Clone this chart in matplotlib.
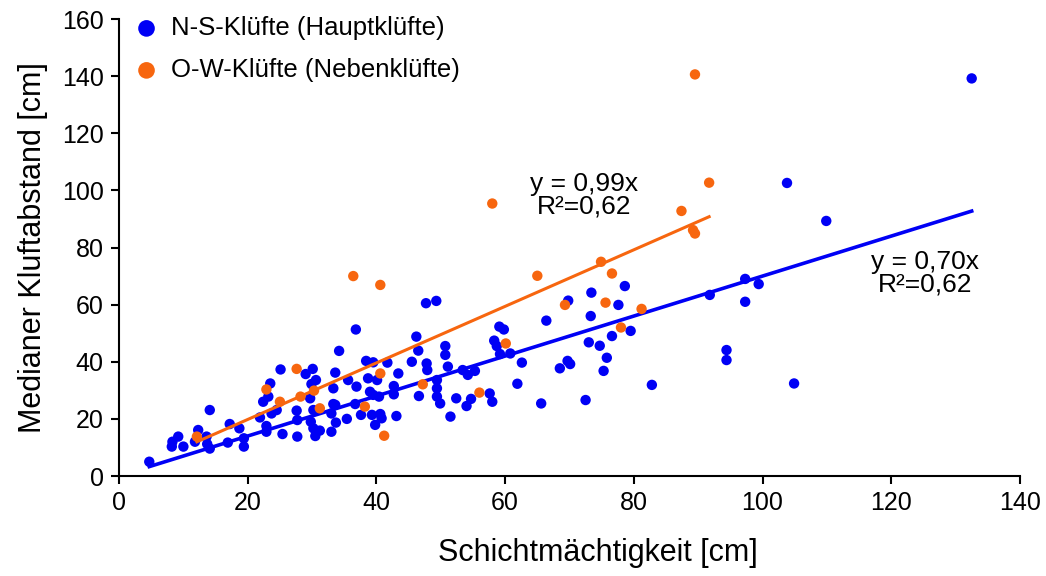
import matplotlib
matplotlib.use("Agg")
import matplotlib.pyplot as plt
import numpy as np

plt.rcParams['font.family'] = ['Liberation Sans', 'DejaVu Sans']

# N-S-Klüfte (Hauptklüfte)
ns_x = [4.7, 8.3, 9.2, 8.2, 10.0, 12.3, 11.8, 13.6, 14.1, 14.1, 13.7, 16.9, 17.2, 18.7, 19.4, 19.4,
        22.4, 22.9, 22.9, 23.5, 23.2, 21.9, 23.7, 24.5, 25.1, 25.4, 27.6, 27.7, 27.7, 29.0, 30.1,
        30.6, 29.7, 30.2, 29.8, 30.2, 30.5, 31.2, 33.0, 33.3, 33.6, 34.2, 33.6, 33.7, 33.0, 35.4,
        35.6, 29.9, 36.8, 36.9, 38.4, 39.5, 41.7, 38.7, 40.1, 39.0, 39.5, 40.4, 36.7, 37.6, 39.3,
        39.8, 40.8, 43.1, 42.7, 42.7, 43.4, 46.2, 46.5, 45.5, 47.8, 47.9, 46.6, 49.4, 49.4, 49.4,
        49.9, 47.7, 49.3, 50.7, 50.7, 51.1, 52.4, 51.5, 53.4, 54.2, 55.3, 54.7, 54.0, 57.6, 58.0,
        58.3, 58.7, 59.1, 59.8, 60.8, 59.2, 61.9, 62.6, 65.6, 66.4, 68.5, 69.7, 70.1, 69.8, 73.4,
        73.3, 78.6, 77.6, 79.5, 76.6, 73.0, 74.7, 75.8, 75.3, 72.5, 82.8, 91.8, 97.3, 99.4, 97.3,
        94.4, 94.4, 104.9, 103.8, 109.9, 132.5, 40.6, 33.3]
ns_y = [5.0, 12.0, 13.8, 10.3, 10.3, 16.1, 12.0, 13.8, 9.6, 23.1, 11.2, 11.7, 18.2, 16.7, 13.2, 10.3,
        26.0, 17.5, 15.5, 32.4, 27.8, 20.5, 21.9, 23.1, 37.3, 14.7, 22.9, 19.6, 13.8, 35.7, 37.5,
        33.6, 27.2, 23.1, 19.0, 16.7, 14.0, 15.9, 15.5, 30.7, 36.2, 43.8, 24.9, 18.7, 21.9, 20.0,
        33.6, 32.2, 51.3, 31.3, 40.3, 39.8, 39.7, 34.2, 33.6, 29.5, 28.4, 27.8, 25.2, 21.4, 21.4,
        17.9, 20.2, 21.0, 31.5, 28.6, 35.9, 48.8, 43.9, 40.0, 39.4, 37.1, 28.0, 33.6, 30.7, 27.8,
        25.4, 60.5, 61.3, 45.5, 42.4, 38.3, 27.2, 20.8, 37.1, 35.4, 36.8, 27.0, 24.5, 28.9, 26.0,
        47.4, 45.5, 52.3, 51.3, 42.9, 42.7, 32.3, 39.7, 25.4, 54.4, 37.7, 40.3, 39.2, 61.4, 64.2,
        56.0, 66.5, 59.9, 50.8, 49.0, 46.8, 45.6, 41.4, 36.8, 26.6, 31.9, 63.4, 69.0, 67.2, 61.0,
        44.1, 40.6, 32.4, 102.6, 89.3, 139.2, 21.7, 25.2]

# O-W-Klüfte (Nebenklüfte)
ow_x = [12.1, 22.9, 25.0, 27.6, 28.2, 30.3, 31.2, 36.4, 38.2, 40.6, 40.6, 41.2, 47.2, 56.0,
        58.0, 60.1, 65.0, 69.3, 74.9, 75.6, 76.6, 78.0, 81.2, 87.4, 89.2, 89.5, 89.5, 91.7]
ow_y = [13.8, 30.3, 26.0, 37.5, 27.8, 29.9, 23.7, 70.0, 24.3, 66.9, 35.9, 14.1, 32.1, 29.2,
        95.4, 46.4, 70.1, 59.9, 75.0, 60.7, 70.9, 52.0, 58.5, 92.8, 86.1, 84.9, 140.6, 102.7]

ns_slope = 0.70
ow_slope = 0.99
ns_label = "y = 0,70x\nR²=0,62"
ow_label = "y = 0,99x\nR²=0,62"

blue = '#0000f5'
orange = '#f7660f'

fig = plt.figure(figsize=(10.46, 5.76), dpi=100)
ax = fig.add_axes([0.1138, 0.1736, 0.8613, 0.7934])

ax.scatter(ns_x, ns_y, s=56, color=blue, edgecolors='none', zorder=2,
           label='N-S-Klüfte (Hauptklüfte)')
xb = np.array([min(ns_x), max(ns_x)])
ax.plot(xb, ns_slope * xb, color=blue, lw=2.6, zorder=3)
ax.scatter(ow_x, ow_y, s=56, color=orange, edgecolors='none', zorder=4,
           label='O-W-Klüfte (Nebenklüfte)')
xo = np.array([min(ow_x), max(ow_x)])
ax.plot(xo, ow_slope * xo, color=orange, lw=2.2, zorder=5)

ax.text(72.2, 98.3, ow_label, ha='center', va='center', fontsize=19, linespacing=0.92)
ax.text(125.2, 71.0, ns_label, ha='center', va='center', fontsize=19, linespacing=0.92)

ax.set_xlim(0, 140)
ax.set_ylim(0, 160)
ax.set_xticks(np.arange(0, 141, 20))
ax.set_yticks(np.arange(0, 161, 20))
for s in ['top', 'right']:
    ax.spines[s].set_visible(False)
for s in ['left', 'bottom']:
    ax.spines[s].set_linewidth(1.5)
ax.tick_params(direction='out', length=6, width=1.5, labelsize=18, pad=5)

ax.set_xlabel('Schichtmächtigkeit [cm]', fontsize=22, labelpad=14)
ax.xaxis.set_label_coords(0.532, -0.135)
ax.set_ylabel('Medianer Kluftabstand [cm]', fontsize=22, labelpad=10)

leg = ax.legend(loc='upper left', bbox_to_anchor=(-0.008, 1.04), frameon=False, fontsize=18.5,
                markerscale=1.6, labelspacing=0.7, handletextpad=0.2, borderaxespad=0.2,
                handlelength=1.5)

fig.savefig('out.png', dpi=100)
